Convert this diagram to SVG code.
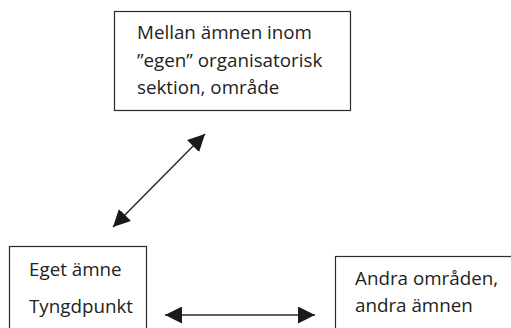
<svg xmlns="http://www.w3.org/2000/svg" width="511" height="328" viewBox="0 0 511 328">
<style>
.box{fill:#fff;stroke:#2b2b2b;stroke-width:1.2}
.t{font-family:"Open Sans","Noto Sans",sans-serif;font-size:18.8px;fill:#222}
.c{stroke:#2b2b2b;stroke-width:1.5;fill:none}
</style>
<defs>
<marker id="ah" viewBox="0 0 17 17" refX="17" refY="8.5" markerWidth="17" markerHeight="17" markerUnits="userSpaceOnUse" orient="auto-start-reverse">
<path d="M0,0 L17,8.5 L0,17 z" fill="#1a1a1a"/>
</marker>
</defs>
<rect width="511" height="328" fill="#fff"/>
<g id="node-top">
<rect class="box" x="114.5" y="11.5" width="236" height="99"/>
<text class="t" x="137" y="39">Mellan ämnen inom</text>
<text class="t" x="137" y="67">”egen” organisatorisk</text>
<text class="t" x="137" y="94">sektion, område</text>
</g>
<g id="node-left">
<rect class="box" x="9.5" y="246.5" width="137" height="90"/>
<text class="t" x="29" y="276">Eget ämne</text>
<text class="t" x="29" y="313">Tyngdpunkt</text>
</g>
<g id="node-right">
<rect class="box" x="335.5" y="256.5" width="190" height="80"/>
<text class="t" x="355" y="285">Andra områden,</text>
<text class="t" x="355" y="312">andra ämnen</text>
</g>
<g id="connectors">
<line class="c" x1="113" y1="227" x2="205" y2="134" marker-start="url(#ah)" marker-end="url(#ah)"/>
<line class="c" x1="165" y1="315" x2="315" y2="315" marker-start="url(#ah)" marker-end="url(#ah)"/>
</g>
</svg>
